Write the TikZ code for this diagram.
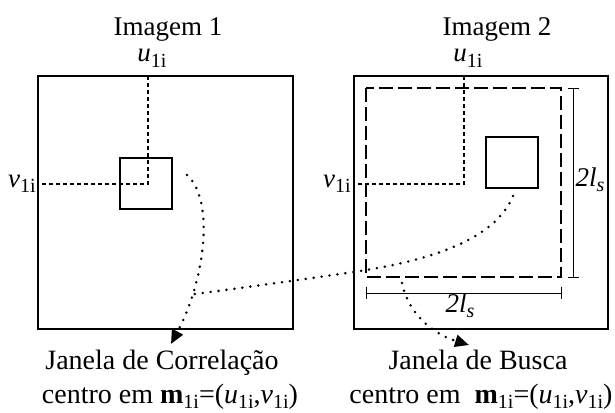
\documentclass[tikz,border=0pt]{standalone}
\usepackage{fontspec}
\setmainfont{Liberation Serif}
\usetikzlibrary{arrows.meta}
\newcommand\sbs[1]{\raisebox{-0.45ex}{\fontsize{20}{20}\selectfont #1}}
\begin{document}
\begin{tikzpicture}[x=1pt,y=-1pt,
  txt/.style={font=\fontsize{27}{30}\selectfont, inner sep=0pt, anchor=base},
  big/.style={txt, font=\fontsize{28}{32}\selectfont},
  frame/.style={line width=2pt},
  cross/.style={line width=2pt, dash pattern=on 4pt off 3pt},
  search/.style={line width=2pt, dash pattern=on 14pt off 5pt},
  dim/.style={line width=0.9pt},
  dots/.style={line width=2.8pt, line cap=round, dash pattern=on 0pt off 8pt},
  tip/.style={-{Triangle[length=14pt,width=12pt]}}]
\useasboundingbox (0,0) rectangle (615,412);
% frames
\draw[frame] (38,76) rectangle (293,329);
\draw[frame] (354,76) rectangle (608,329);
% correlation window and search window
\draw[frame] (120,158) rectangle (172,209);
\draw[frame] (486,137) rectangle (538,188);
\draw[search] (366,88) rectangle (561,277);
% crosshairs
\draw[cross] (148,76) -- (148,184) -- (38,184);
\draw[cross] (464,76) -- (464,184) -- (354,184);
% dimension lines
\draw[dim] (573,88) -- (573,277);
\draw[dim] (568,88) -- (579,88);
\draw[dim] (568,277) -- (579,277);
\draw[dim] (366,293) -- (561,293);
\draw[dim] (366,287) -- (366,299);
\draw[dim] (561,287) -- (561,299);
% labels
\node[txt] (im1) at (168,36) {Imagem 1};
\node[txt] (im2) at (497,36) {Imagem 2};
\node[txt] (u1) at (152,62) {\textit{u}\sbs{1i}};
\node[txt] (u2) at (468,62) {\textit{u}\sbs{1i}};
\node[txt] (v1) at (22,187) {\textit{v}\sbs{1i}};
\node[txt] (v2) at (337,187) {\textit{v}\sbs{1i}};
\node[txt] (lsv) at (590,186) {\textit{2l}\sbs{\textit{s}}};
\node[txt] (lsh) at (460,312) {\textit{2l}\sbs{\textit{s}}};
\node[big] (jc) at (162,369) {Janela de Correlação};
\node[big] (cc) at (170,403) {centro em \textbf{m}\sbs{1i}=(\textit{u}\sbs{1i},\textit{v}\sbs{1i})};
\node[big] (jb) at (478,369) {Janela de Busca};
\node[big] (cb) at (481,403) {centro em\ \ \textbf{m}\sbs{1i}=(\textit{u}\sbs{1i},\textit{v}\sbs{1i})};
% dotted connectors
\coordinate (a0) at (187,175);
\coordinate (a1) at (171,344);
\coordinate (b0) at (513,196);
\coordinate (bm) at (360,271);
\coordinate (b1) at (188,295);
\coordinate (c0) at (402,283);
\coordinate (c1) at (469,345);
\draw[dots, tip] (a0) .. controls (215,200) and (205,280) .. (a1);
\draw[dots] (b0) .. controls (495,240) and (430,260) .. (bm) .. controls (300,280) and (240,288) .. (b1);
\draw[dots, tip] (c0) .. controls (410,320) and (440,336) .. (c1);
\end{tikzpicture}
\end{document}
